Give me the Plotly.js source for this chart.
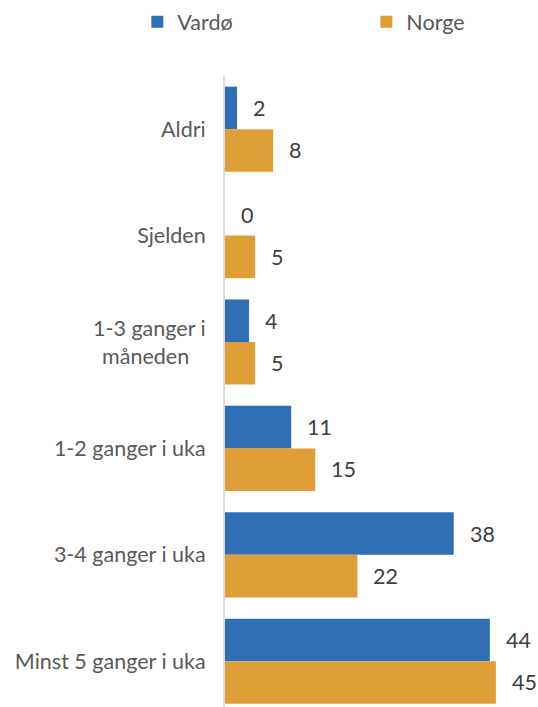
<!DOCTYPE html>
<html>
<head>
<meta charset="utf-8">
<script src="https://cdn.plot.ly/plotly-3.0.1.min.js"></script>
<style>html,body{margin:0;padding:0;background:#fff;}#chart{width:538px;height:707px;}</style>
</head>
<body>
<div id="chart"></div>
<script>
const categories = ["Aldri", "Sjelden", "1-3 ganger i måneden", "1-2 ganger i uka", "3-4 ganger i uka", "Minst 5 ganger i uka"];
const tickLabels = ["Aldri", "Sjelden", "1-3 ganger i<br>måneden\u00a0\u00a0\u00a0", "1-2 ganger i uka", "3-4 ganger i uka", "Minst 5 ganger i uka"];
const vardo = [2, 0, 4, 11, 38, 44];
const norge = [8, 5, 5, 15, 22, 45];
const seriesNames = ["Vardø", "Norge"];
const colors = ["#2E6FB6", "#E09E37"];

const FONT = "Lato, 'Open Sans', sans-serif";
const TXT = "#595959";
const FS = 21.5;

const traces = [
  {type: "bar", orientation: "h", name: seriesNames[0], y: categories, x: vardo,
   marker: {color: colors[0]}, hoverinfo: "skip"},
  {type: "bar", orientation: "h", name: seriesNames[1], y: categories, x: norge,
   marker: {color: colors[1]}, hoverinfo: "skip"}
];

const annotations = [];
[vardo, norge].forEach((vals, s) => {
  vals.forEach((v, i) => {
    annotations.push({
      x: v, y: categories[i], xref: "x", yref: "y",
      text: String(v), showarrow: false, xanchor: "left",
      xshift: 14, yshift: s === 0 ? 21 : -21,
      font: {family: FONT, size: FS, color: "#404040"}
    });
  });
});

const layout = {
  width: 538, height: 707,
  margin: {l: 225, r: 0, t: 76, b: 0, autoexpand: false},
  paper_bgcolor: "#fff", plot_bgcolor: "#fff",
  barmode: "group", bargap: 0.2, bargroupgap: 0,
  font: {family: FONT, size: FS, color: TXT},
  showlegend: true,
  legend: {orientation: "h", x: -0.28, xanchor: "left",
           y: 1.086, yanchor: "middle", entrywidth: 184, entrywidthmode: "pixels",
           font: {family: FONT, size: FS, color: TXT}, traceorder: "normal"},
  xaxis: {range: [0, 52], showgrid: false, zeroline: false, showline: false,
          showticklabels: false, ticks: "", fixedrange: true},
  yaxis: {type: "category", categoryarray: categories, categoryorder: "array",
          range: [5.43, -0.5], tickvals: categories, ticktext: tickLabels,
          showgrid: false, zeroline: false, showline: true, linecolor: "#D9D9D9",
          linewidth: 2, ticks: "", ticklabelstandoff: 13, automargin: false,
          tickfont: {family: FONT, size: FS, color: TXT}},
  annotations: annotations
};

Plotly.newPlot("chart", traces, layout, {displayModeBar: false, staticPlot: true});
</script>
</body>
</html>
